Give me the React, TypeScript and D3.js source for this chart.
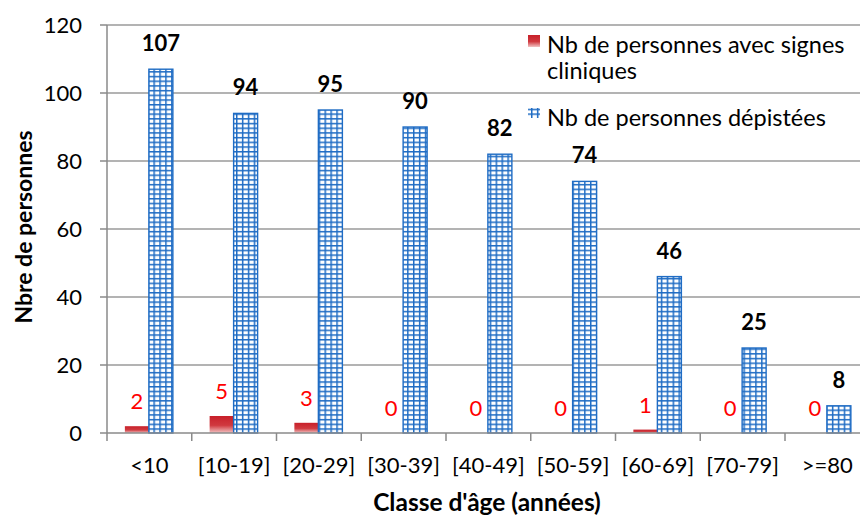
import React from "react";
import * as d3 from "d3";

const categories = ["<10", "[10-19]", "[20-29]", "[30-39]", "[40-49]", "[50-59]", "[60-69]", "[70-79]", ">=80"];
const cliniques = [2, 5, 3, 0, 0, 0, 1, 0, 0];
const depistees = [107, 94, 95, 90, 82, 74, 46, 25, 8];
const yTicks = [0, 20, 40, 60, 80, 100, 120];
const legendLines = ["Nb de personnes avec signes", "cliniques", "Nb de personnes dépistées"];

const W = 860;
const H = 517;
const left = 107;
const bandW = 84.75;
const top = 25;
const bottom = 433;

const FONT = "Lato, 'Open Sans', sans-serif";
const BLUE = "#1f6cc4";

export default function App() {
  const x = d3.scaleBand<string>().domain(categories).range([left, left + bandW * categories.length]).padding(0);
  const y = d3.scaleLinear().domain([0, 120]).range([bottom, top]);
  const inner = d3.scaleBand<string>().domain(["c", "d"]).range([-24.5, 23.5]).padding(0);
  const bw = inner.bandwidth();

  return (
    <div style={{ position: "absolute", left: 0, top: 0 }}>
      <svg width={W} height={H} style={{ display: "block", background: "#fff" }} fontFamily={FONT}>
        <defs>
          <linearGradient id="redGrad" x1="0" y1="0" x2="0" y2="1">
            <stop offset="0" stopColor="#c8202a" />
            <stop offset="0.55" stopColor="#d0393f" />
            <stop offset="1" stopColor="#f2c4c4" />
          </linearGradient>
          <pattern id="grid" patternUnits="userSpaceOnUse" width={5.9} height={4.7} x={0} y={bottom}>
            <rect width={5.9} height={4.7} fill="#fff" />
            <line x1={0.75} y1={0} x2={0.75} y2={4.7} stroke={BLUE} strokeWidth={1.5} />
            <line x1={0} y1={0.75} x2={5.9} y2={0.75} stroke={BLUE} strokeWidth={1.5} />
          </pattern>
        </defs>

        {/* gridlines */}
        {yTicks.filter((t) => t > 0).map((t) => (
          <line key={"g" + t} x1={left} x2={W} y1={y(t)} y2={y(t)} stroke="#9a9a9a" strokeWidth={1.5} />
        ))}

        {/* bars */}
        {categories.map((c, i) => {
          const cx = (x(c) as number) + x.bandwidth() / 2;
          const rx = cx + (inner("c") as number);
          const bx = cx + (inner("d") as number);
          return (
            <g key={c}>
              {cliniques[i] > 0 && (
                <rect x={rx} y={y(cliniques[i])} width={bw} height={bottom - y(cliniques[i])} fill="url(#redGrad)" />
              )}
              <rect x={bx} y={y(depistees[i])} width={bw} height={bottom - y(depistees[i])} fill="url(#grid)" stroke={BLUE} strokeWidth={1.4} />
              <text x={rx + bw / 2} y={y(cliniques[i]) - 17} textAnchor="middle" fontSize={22} fill="#ff0000">
                {cliniques[i]}
              </text>
              <text x={bx + bw / 2} y={y(depistees[i]) - 18} textAnchor="middle" fontSize={22} fontWeight="bold" fill="#000">
                {depistees[i]}
              </text>
            </g>
          );
        })}

        {/* axes */}
        <line x1={left} x2={left} y1={top} y2={bottom} stroke="#8a8a8a" strokeWidth={1.5} />
        {yTicks.map((t) => (
          <g key={"y" + t}>
            <line x1={left - 7} x2={left} y1={y(t)} y2={y(t)} stroke="#8a8a8a" strokeWidth={1.5} />
            <text x={82} y={y(t)} dy="0.35em" textAnchor="end" fontSize={22} fill="#000">
              {t}
            </text>
          </g>
        ))}
        <line x1={left} x2={W} y1={bottom} y2={bottom} stroke="#8a8a8a" strokeWidth={1.5} />
        {categories.map((c) => (
          <line key={"t" + c} x1={(x(c) as number) + x.bandwidth()} x2={(x(c) as number) + x.bandwidth()} y1={bottom} y2={bottom + 8} stroke="#8a8a8a" strokeWidth={1.5} />
        ))}
        <line x1={left} x2={left} y1={bottom} y2={bottom + 8} stroke="#8a8a8a" strokeWidth={1.5} />
        {categories.map((c) => (
          <text key={"l" + c} x={(x(c) as number) + x.bandwidth() / 2} y={473} textAnchor="middle" fontSize={22} fill="#000">
            {c}
          </text>
        ))}

        {/* axis titles */}
        <text x={487} y={511} textAnchor="middle" fontSize={24.5} fontWeight="bold" fill="#000">
          Classe d'âge (années)
        </text>
        <text transform={`translate(32,227) rotate(-90)`} textAnchor="middle" fontSize={23} fontWeight="bold" fill="#000">
          Nbre de personnes
        </text>

        {/* legend */}
        <rect x={528} y={35} width={12} height={12} fill="url(#redGrad)" />
        <text x={547} y={53} fontSize={23.5} fill="#000">{legendLines[0]}</text>
        <text x={547} y={79} fontSize={23.5} fill="#000">{legendLines[1]}</text>
        <rect x={528} y={108} width={12} height={10} fill="url(#grid)" />
        <text x={547} y={126} fontSize={23.5} fill="#000">{legendLines[2]}</text>
      </svg>
    </div>
  );
}
